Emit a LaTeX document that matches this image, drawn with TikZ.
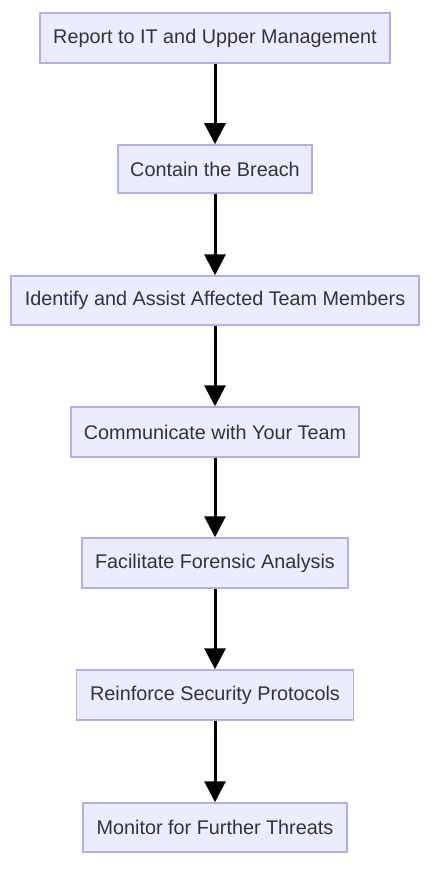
\documentclass[tikz,border=0pt]{standalone}
\usepackage{fontspec}
\setmainfont{Liberation Sans}
\usetikzlibrary{arrows.meta}
\definecolor{boxfill}{HTML}{ECECFF}
\definecolor{boxline}{HTML}{B4ADEA}
\definecolor{txt}{HTML}{333333}
\begin{document}
\begin{tikzpicture}[x=1pt,y=-1pt,
  stepbox/.style={draw=boxline,fill=boxfill,line width=1.5pt,inner sep=0pt,text=txt,
    font=\fontsize{19.8}{22}\selectfont},
  flow/.style={line width=3pt,-{Triangle[width=21pt,length=21pt]}}]
\useasboundingbox[fill=white] (0,0) rectangle (435,869);
\node[stepbox,minimum width=350pt,minimum height=50pt] (a) at (215,38) {Report to IT and Upper Management};
\node[stepbox,minimum width=194pt,minimum height=48pt] (b) at (215,169) {Contain the Breach};
\node[stepbox,minimum width=408pt,minimum height=49pt] (c) at (215,300.5) {Identify and Assist Affected Team Members};
\node[stepbox,minimum width=288pt,minimum height=50pt] (d) at (215,432) {Communicate with Your Team};
\node[stepbox,minimum width=266pt,minimum height=50pt] (e) at (215,563) {Facilitate Forensic Analysis};
\node[stepbox,minimum width=277pt,minimum height=50pt] (f) at (215,695) {Reinforce Security Protocols};
\node[stepbox,minimum width=264pt,minimum height=49pt] (g) at (215,827.5) {Monitor for Further Threats};
\draw[flow] (a) -- (b);
\draw[flow] (b) -- (c);
\draw[flow] (c) -- (d);
\draw[flow] (d) -- (e);
\draw[flow] (e) -- (f);
\draw[flow] (f) -- (g);
\end{tikzpicture}
\end{document}
